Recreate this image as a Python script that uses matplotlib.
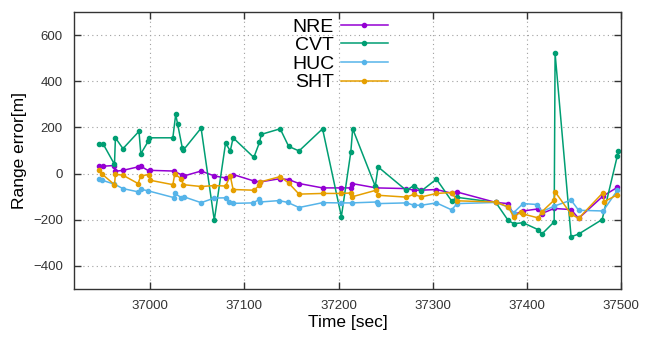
import matplotlib
matplotlib.use("Agg")
import matplotlib.pyplot as plt

plt.rcParams['font.family'] = ['Liberation Sans', 'DejaVu Sans']

# NRE series
nre_t = [36946, 36950, 36962, 36963, 36971, 36987, 36990, 36999, 37000, 37025,
         37034, 37036, 37054, 37068, 37080, 37088, 37110, 37117, 37138, 37147,
         37158, 37183, 37203, 37213, 37214, 37240, 37272, 37280, 37288, 37304,
         37320, 37326, 37367, 37380, 37386, 37396, 37412, 37416, 37429, 37447,
         37455, 37481, 37496]
nre_y = [32, 32, 35, 10, 14, 29, 32, 10, 14, 11,
         -7, -10, 11, -10, -19, -4, -32, -36, -22, -26,
         -43, -62, -62, -62, -43, -62, -65, -72, -72, -69,
         -85, -80, -125, -130, -178, -162, -153, -173, -151, -156,
         -194, -97, -60]

# CVT series
cvt_t = [36946, 36950, 36962, 36963, 36971, 36988, 36990, 36998, 36999, 37024,
         37027, 37029, 37034, 37035, 37054, 37068, 37080, 37085, 37088, 37110,
         37116, 37118, 37138, 37147, 37158, 37183, 37203, 37213, 37215, 37239,
         37242, 37272, 37280, 37288, 37304, 37320, 37326, 37367, 37380, 37386,
         37396, 37412, 37416, 37429, 37430, 37447, 37455, 37480, 37496, 37497]
cvt_y = [128, 128, 40, 155, 108, 183, 86, 141, 155, 155,
         256, 216, 112, 101, 197, -202, 132, 98, 155, 70,
         135, 170, 194, 118, 98, 194, -186, 93, 194, -55,
         29, -73, -52, -75, -24, -118, -103, -125, -202, -217,
         -213, -243, -262, -209, 521, -274, -262, -199, 75, 98]

# HUC series
huc_t = [36946, 36949, 36962, 36971, 36987, 36990, 36998, 37025, 37026, 37033,
         37036, 37054, 37068, 37080, 37084, 37088, 37109, 37116, 37117, 37137,
         37146, 37158, 37183, 37203, 37214, 37241, 37242, 37272, 37280, 37288,
         37304, 37320, 37326, 37367, 37380, 37386, 37396, 37411, 37416, 37429,
         37447, 37455, 37481, 37496]
huc_y = [-22, -29, -46, -65, -79, -68, -75, -104, -86, -104,
         -101, -126, -106, -105, -123, -129, -127, -112, -123, -117,
         -125, -147, -126, -127, -127, -123, -130, -127, -137, -137,
         -127, -157, -130, -125, -145, -169, -130, -134, -165, -141,
         -115, -159, -162, -73]

# SHT series
sht_t = [36946, 36949, 36962, 36963, 36971, 36987, 36990, 36999, 37000, 37024,
         37026, 37033, 37035, 37054, 37068, 37080, 37085, 37088, 37110, 37116,
         37117, 37138, 37147, 37158, 37183, 37203, 37213, 37214, 37240, 37242,
         37272, 37280, 37288, 37304, 37320, 37326, 37367, 37380, 37386, 37394,
         37396, 37412, 37416, 37429, 37430, 37447, 37455, 37481, 37482, 37496]
sht_y = [14, -3, -48, -3, -7, -43, -10, -4, -29, -48,
         -3, -22, -48, -56, -52, -54, -10, -69, -72, -51,
         -36, -13, -41, -89, -86, -86, -84, -101, -72, -94,
         -102, -90, -101, -86, -82, -118, -123, -144, -187, -166,
         -175, -192, -165, -115, -79, -176, -194, -82, -122, -92]

series = [
    ("NRE", nre_t, nre_y, "#9400d3"),
    ("CVT", cvt_t, cvt_y, "#009e73"),
    ("HUC", huc_t, huc_y, "#56b4e9"),
    ("SHT", sht_t, sht_y, "#e69f00"),
]

fig = plt.figure(figsize=(6.53, 3.42), dpi=100)
ax = fig.add_axes([74 / 653, 1 - 289 / 342, (621 - 74) / 653, (289 - 12) / 342])

for name, t, y, color in series:
    ax.plot(t, y, color=color, lw=1.1, marker='o', markersize=3, label=name)

ax.set_xlim(36919, 37500)
ax.set_ylim(-500, 700)
ax.set_xticks([37000, 37100, 37200, 37300, 37400, 37500])
ax.set_yticks([-400, -200, 0, 200, 400, 600])
ax.grid(True, color='#a0a0a0', linestyle=(0, (1, 3)), linewidth=0.8)
ax.tick_params(direction='in', top=True, right=True, length=5, width=1,
               labelsize=9.5, colors='#333333', labelcolor='#333333', pad=8)
for sp in ax.spines.values():
    sp.set_color('#333333')
    sp.set_linewidth(1.0)

ax.set_xlabel("Time [sec]", fontsize=12.5, labelpad=2)
ax.set_ylabel("Range error[m]", fontsize=12.5, labelpad=4)

ax.legend(loc='upper left', bbox_to_anchor=(292 / 653, 1 - 18 / 342),
          bbox_transform=fig.transFigure, frameon=False, markerfirst=False,
          fontsize=14, handlelength=2.4, handletextpad=0.35, labelspacing=0.05,
          borderpad=0, borderaxespad=0)

fig.savefig("out.png", dpi=100)
